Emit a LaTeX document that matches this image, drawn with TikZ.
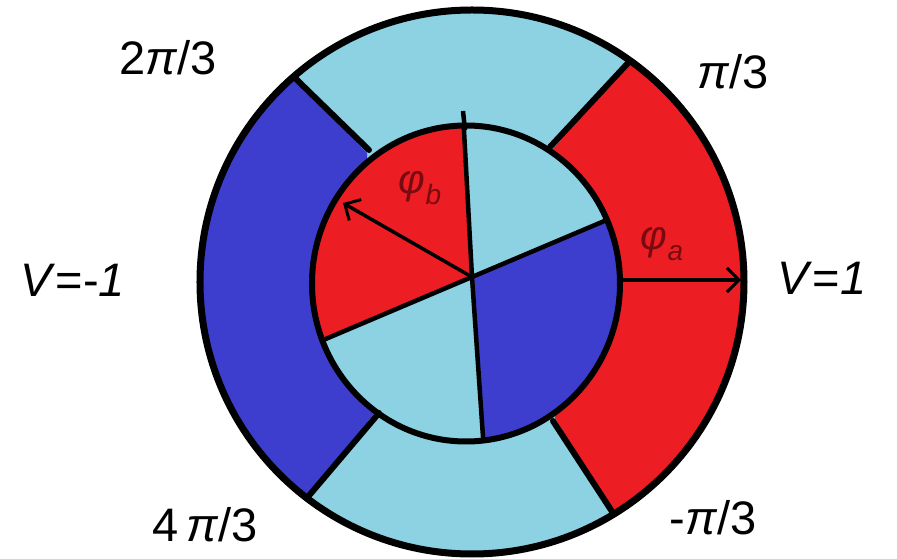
\documentclass[tikz,border=0pt]{standalone}
\usepackage{fontspec}
\setmainfont{Liberation Sans}
\usetikzlibrary{arrows.meta}
\definecolor{lblue}{RGB}{140,210,226}
\definecolor{cred}{RGB}{236,30,36}
\definecolor{cblue}{RGB}{62,62,206}
\definecolor{phicol}{RGB}{120,10,16}
\tikzset{
  ringline/.style={line width=6pt, line cap=round},
  pieline/.style={line width=4.5pt},
  vecarrow/.style={line width=3.5pt, -{Straight Barb[length=12pt,width=24pt,line width=3pt]}},
  lbl/.style={font=\fontsize{47}{50}\selectfont, inner sep=0pt},
  philbl/.style={font=\fontsize{41}{44}\selectfont, text=phicol, inner sep=0pt}
}
\begin{document}
\begin{tikzpicture}[x=1pt,y=1pt]
\useasboundingbox (-472,-279) rectangle (425,280);
\coordinate (O) at (0,-2);
\coordinate (I) at (-6,-3.5);
\coordinate (P) at (0,3);
% ring divider points
\coordinate (urI) at (78,133);  \coordinate (urO) at (156,217);
\coordinate (lrI) at (81,-141); \coordinate (lrO) at (141,-233);
\coordinate (ulI) at (-103,130); \coordinate (ulO) at (-177,202);
\coordinate (llI) at (-93,-133); \coordinate (llO) at (-165,-218);
% outer ring fills
\begin{scope}
  \clip (O) circle (272);
  \fill[lblue] (O) circle (272);
  \fill[cred] (80,130) -- (232,304) -- (320,304) -- (320,-330) -- (199,-328) -- (83,-138) -- cycle;
  \fill[cblue] (-105,127) -- (-249,277) -- (-320,277) -- (-320,-306) -- (-235,-306) -- (-95,-130) -- cycle;
\end{scope}
% inner pie
\begin{scope}
  \clip (I) ellipse [x radius=154, y radius=158];
  \fill[lblue] (I) ellipse [x radius=154, y radius=158];
  \fill[cred] (P) -- (-18,333) -- (-320,333) -- (-320,-119) -- (-288,-119) -- cycle;
  \fill[cblue] (P) -- (22,-317) -- (320,-317) -- (320,113) -- (260,113) -- cycle;
  \draw[pieline] (P) -- (-18,333);
  \draw[pieline] (P) -- (22,-317);
  \draw[pieline] (P) -- (260,113);
  \draw[pieline] (P) -- (-288,-119);
\end{scope}
\coordinate (tickA) at (-7,150);
\coordinate (tickB) at (-9,169);
\draw[pieline] (tickA) -- (tickB);
% outlines
\draw[line width=6pt] (I) ellipse [x radius=154, y radius=158];
\draw[line width=7pt] (O) circle (272);
\draw[ringline] (urI) -- (urO);
\draw[ringline] (lrI) -- (lrO);
\draw[ringline] (ulI) -- (ulO);
\draw[ringline] (llI) -- (llO);
% arrows
\coordinate (aS) at (151,0);
\coordinate (aE) at (269,0);
\draw[vecarrow] (aS) -- (aE);
\coordinate (bE) at (-129,77);
\draw[vecarrow] (P) -- (bE);
% phi labels
\node[philbl] (phia) at (190,36) {\itshape φ\raisebox{-0.28em}{\fontsize{28}{30}\selectfont a}};
\node[philbl] (phib) at (-52,92) {\itshape φ\raisebox{-0.28em}{\fontsize{28}{30}\selectfont b}};
% labels
\node[lbl] (l23) at (-304,222) {2\textit{π}/3};
\node[lbl] (l13) at (261,208) {\textit{π}/3};
\node[lbl] (lvm) at (-399,0) {\textit{V}=-\textit{1}};
\node[lbl] (lvp) at (350,2) {\textit{V}=\textit{1}};
\node[lbl] (l43) at (-267,-245) {4\,\textit{π}/3};
\node[lbl] (lm13) at (241,-238) {-\textit{π}/3};
\end{tikzpicture}
\end{document}
